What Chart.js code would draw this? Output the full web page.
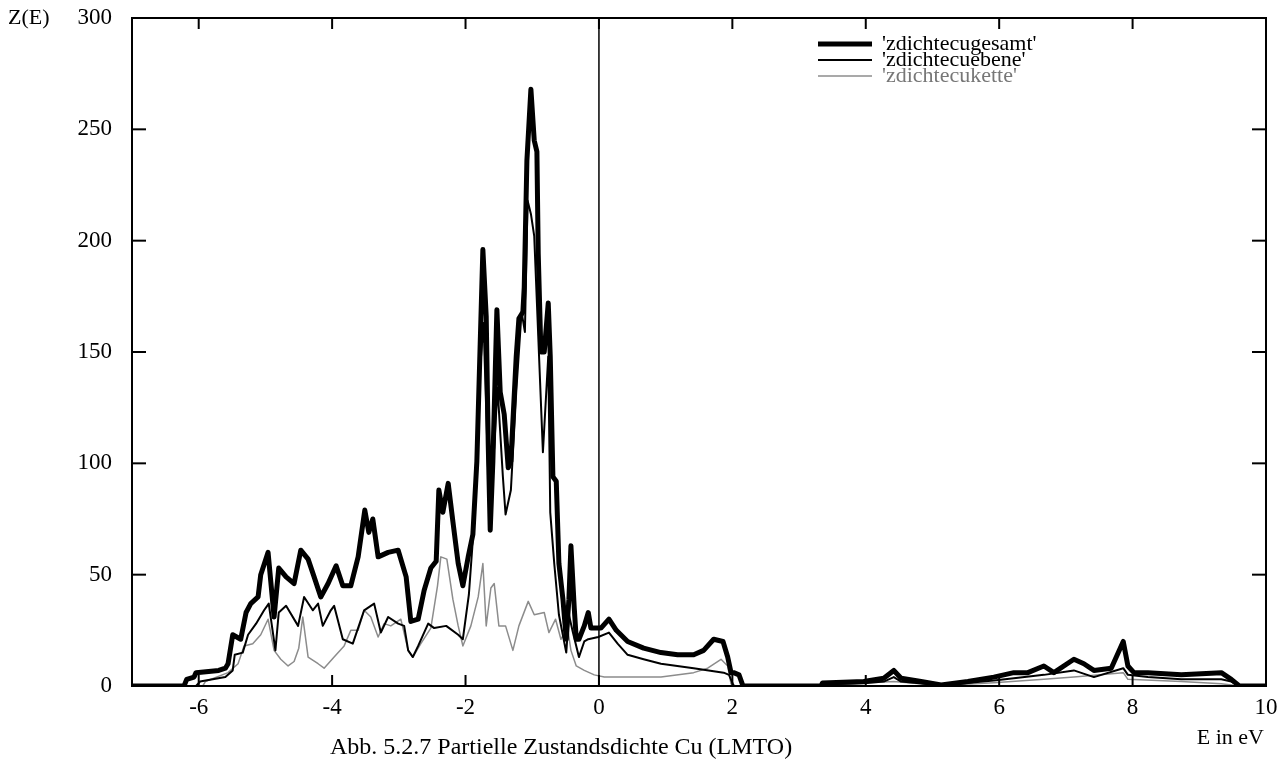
<!DOCTYPE html>
<html lang="de">
<head>
<meta charset="UTF-8" />
<title>Partielle Zustandsdichte Cu (LMTO)</title>
<script src="https://cdn.jsdelivr.net/npm/chart.js"></script>
<style>
  html, body { margin: 0; padding: 0; background: #fff; }
  #wrap { width: 1285px; height: 762px; }
</style>
</head>
<body>
<div id="wrap"><canvas id="dos"></canvas></div>
<script>
// Achsen
const xTicks = [-6, -4, -2, 0, 2, 4, 6, 8, 10];
const yTicks = [0, 50, 100, 150, 200, 250, 300];

// 'zdichtecugesamt'
const gesamtE = [
  -7, -6.22, -6.18, -6.07, -6.04, -5.70, -5.60, -5.56, -5.49, -5.37,
  -5.29, -5.22, -5.11, -5.07, -4.96, -4.87, -4.80, -4.69, -4.57, -4.47,
  -4.36, -4.27, -4.17, -4.06, -3.94, -3.84, -3.72, -3.61, -3.51, -3.45,
  -3.39, -3.31, -3.16, -3.01, -2.89, -2.82, -2.71, -2.62, -2.52, -2.44,
  -2.40, -2.34, -2.26, -2.19, -2.11, -2.04, -1.96, -1.89, -1.83, -1.74,
  -1.69, -1.66, -1.63, -1.59, -1.53, -1.48, -1.42, -1.36, -1.32, -1.24,
  -1.20, -1.14, -1.12, -1.08, -1.02, -0.97, -0.93, -0.91, -0.87, -0.82,
  -0.76, -0.73, -0.69, -0.64, -0.60, -0.54, -0.49, -0.45, -0.42, -0.37,
  -0.34, -0.30, -0.22, -0.16, -0.12, 0.03, 0.15, 0.26, 0.43, 0.67,
  0.93, 1.18, 1.42, 1.57, 1.72, 1.86, 1.93, 1.98, 2.02, 2.10,
  2.16, 3.33, 3.35, 3.97, 4.27, 4.42, 4.53, 4.83, 5.13, 5.53,
  5.92, 6.22, 6.43, 6.67, 6.82, 7.12, 7.27, 7.42, 7.68, 7.86,
  7.93, 8.02, 8.23, 8.73, 9.33, 9.48, 9.60, 10
];
const gesamtZ = [
  0, 0, 3, 4, 6, 7, 8, 10, 23, 21,
  33, 37, 40, 50, 60, 31, 53, 49, 46, 61,
  57, 49, 40, 46, 54, 45, 45, 58, 79, 69,
  75, 58, 60, 61, 49, 29, 30, 43, 53, 56,
  88, 78, 91, 74, 55, 45, 58, 68, 101, 196,
  166, 109, 70, 101, 169, 132, 122, 98, 101, 148,
  165, 168, 179, 236, 268, 245, 240, 194, 150, 150,
  172, 148, 94, 92, 55, 39, 21, 39, 63, 35,
  21, 21, 27, 33, 26, 26, 30, 25, 20, 17,
  15, 14, 14, 16, 21, 20, 13, 6, 6, 5,
  0, 0, 1.3, 2, 3.5, 7, 3.5, 2, 0.5, 2,
  4, 6, 6, 9, 6, 12, 10, 7, 8, 20,
  9, 6, 6, 5, 6, 3, 0, 0
];

// 'zdichtecuebene'
const ebeneE = [
  -7, -6.04, -5.98, -5.60, -5.49, -5.46, -5.34, -5.26, -5.14, -5.02,
  -4.95, -4.85, -4.80, -4.69, -4.51, -4.42, -4.29, -4.21, -4.14, -4.02,
  -3.97, -3.84, -3.69, -3.52, -3.37, -3.27, -3.16, -3.01, -2.92, -2.86,
  -2.79, -2.71, -2.56, -2.47, -2.29, -2.11, -2.04, -1.95, -1.88, -1.80,
  -1.73, -1.66, -1.62, -1.57, -1.52, -1.44, -1.40, -1.32, -1.24, -1.16,
  -1.11, -1.07, -1.02, -0.97, -0.84, -0.76, -0.73, -0.67, -0.60, -0.49,
  -0.45, -0.39, -0.30, -0.22, -0.16, -0.01, 0.15, 0.28, 0.43, 0.67,
  0.93, 1.42, 1.87, 1.95, 2.02, 3.33, 3.35, 3.97, 4.27, 4.42,
  4.53, 5.13, 5.92, 6.22, 6.67, 7.12, 7.42, 7.86, 7.93, 8.23,
  8.73, 9.33, 9.48, 9.60, 10
];
const ebeneZ = [
  0, 0, 2, 4, 7, 14, 15, 23, 28, 34,
  37, 16, 33, 36, 27, 40, 34, 37, 27, 34,
  36, 21, 19, 34, 37, 24, 31, 28, 27, 16,
  13, 18, 28, 26, 27, 23, 21, 41, 70, 135,
  163, 95, 92, 107, 134, 94, 77, 88, 132, 168,
  159, 218, 212, 202, 105, 148, 78, 55, 32, 15,
  32, 24, 13, 20, 21, 22, 24, 19, 14, 12,
  10, 8, 6, 5, 0, 0, 0.8, 1.2, 2, 4,
  2, 0.3, 2.5, 3.5, 5, 7, 4, 8, 5, 4,
  3, 3, 2, 0, 0
];

// 'zdichtecukette'
const ketteE = [
  -7, -5.94, -5.90, -5.56, -5.41, -5.32, -5.19, -5.07, -4.96, -4.87,
  -4.77, -4.66, -4.57, -4.50, -4.44, -4.36, -4.21, -4.12, -3.97, -3.82,
  -3.72, -3.61, -3.52, -3.42, -3.31, -3.22, -3.12, -2.97, -2.86, -2.79,
  -2.67, -2.52, -2.42, -2.37, -2.28, -2.19, -2.11, -2.04, -1.92, -1.81,
  -1.74, -1.69, -1.62, -1.57, -1.50, -1.40, -1.29, -1.20, -1.06, -0.97,
  -0.82, -0.75, -0.65, -0.57, -0.47, -0.42, -0.34, -0.22, -0.07, 0.08,
  0.93, 1.42, 1.63, 1.83, 1.93, 1.98, 2.05, 3.33, 3.35, 4.42,
  5.13, 5.92, 6.67, 7.12, 7.86, 7.93, 8.73, 9.33, 9.60, 10
];
const ketteZ = [
  0, 0, 2, 6, 10, 18, 19, 23, 30, 16,
  12, 9, 11, 17, 31, 13, 10, 8, 13, 18,
  25, 25, 34, 31, 22, 28, 27, 30, 16, 13,
  19, 26, 45, 58, 57, 39, 27, 18, 27, 40,
  55, 27, 44, 46, 27, 27, 16, 27, 38, 32,
  33, 24, 30, 21, 26, 16, 9, 7, 5, 4,
  4, 6, 8, 12, 9, 1, 0, 0, 0.5, 2,
  0.2, 1.5, 3, 4, 6, 3, 2, 1, 0, 0
];

const legendLabels = ["'zdichtecugesamt'", "'zdichtecuebene'", "'zdichtecukette'"];

const serif = "'Liberation Serif', 'DejaVu Serif', serif";

function pts(es, zs) {
    return es.map((e, i) => ({ x: e, y: zs[i] }));
}

// Rahmen, Ticks nach innen, Nulllinie, Legende und Beschriftungen
const gnuplotLook = {
    id: 'gnuplotLook',
    afterDatasetsDraw(chart) {
        const { ctx, chartArea: a, scales: { x, y } } = chart;
        const line = (x1, y1, x2, y2) => {
            ctx.beginPath(); ctx.moveTo(x1, y1); ctx.lineTo(x2, y2); ctx.stroke();
        };
        ctx.save();
        ctx.strokeStyle = '#000';

        const x0 = x.getPixelForValue(0);
        ctx.lineWidth = 1.5;
        line(x0, a.top, x0, a.bottom);

        ctx.lineWidth = 2;
        ctx.strokeRect(a.left, a.top, a.width, a.height);
        xTicks.forEach(v => {
            const px = x.getPixelForValue(v);
            line(px, a.bottom, px, a.bottom - 11);
            line(px, a.top, px, a.top + 11);
        });
        yTicks.forEach(v => {
            const py = y.getPixelForValue(v);
            line(a.left, py, a.left + 14, py);
            line(a.right, py, a.right - 14, py);
        });

        // Legende
        const ds = chart.data.datasets;
        ctx.font = '22px ' + serif;
        ctx.textBaseline = 'middle';
        ctx.textAlign = 'left';
        legendLabels.forEach((lab, i) => {
            const ly = 44 + i * 16;
            ctx.strokeStyle = ds[i].borderColor;
            ctx.lineWidth = ds[i].borderWidth;
            line(818, ly, 872, ly);
            ctx.fillStyle = i === 2 ? '#777' : '#000';
            ctx.fillText(lab, 882, ly);
        });

        // Achsentitel und Bildunterschrift
        ctx.fillStyle = '#000';
        ctx.font = '22px ' + serif;
        ctx.fillText('Z(E)', 8, 18);
        ctx.textAlign = 'right';
        ctx.fillText('E in eV', 1264, 738);
        ctx.textAlign = 'left';
        ctx.font = '24px ' + serif;
        ctx.fillText('Abb. 5.2.7 Partielle Zustandsdichte Cu (LMTO)', 330, 748);
        ctx.restore();
    }
};

new Chart(document.getElementById('dos'), {
    type: 'scatter',
    data: {
        datasets: [
            { label: legendLabels[0], data: pts(gesamtE, gesamtZ), borderColor: '#000', borderWidth: 5 },
            { label: legendLabels[1], data: pts(ebeneE, ebeneZ), borderColor: '#000', borderWidth: 2 },
            { label: legendLabels[2], data: pts(ketteE, ketteZ), borderColor: '#8c8c8c', borderWidth: 1.5 }
        ].map(d => Object.assign(d, { showLine: true, pointRadius: 0, tension: 0, borderJoinStyle: 'round' }))
    },
    options: {
        responsive: true,
        maintainAspectRatio: false,
        animation: false,
        layout: { padding: { left: 0, top: 18, right: 19, bottom: 0 } },
        plugins: { legend: { display: false }, tooltip: { enabled: false } },
        scales: {
            x: {
                type: 'linear', min: -7, max: 10,
                grid: { display: false, drawTicks: false },
                border: { display: false },
                ticks: { color: '#000', font: { family: serif, size: 23 }, padding: 8, maxRotation: 0 },
                afterBuildTicks: s => { s.ticks = xTicks.map(v => ({ value: v })); },
                afterFit: s => { s.height = 76; s.paddingLeft = 0; s.paddingRight = 0; }
            },
            y: {
                type: 'linear', min: 0, max: 300,
                grid: { display: false, drawTicks: false },
                border: { display: false },
                ticks: { color: '#000', font: { family: serif, size: 23 }, padding: 20 },
                afterBuildTicks: s => { s.ticks = yTicks.map(v => ({ value: v })); },
                afterFit: s => { s.width = 132; s.paddingTop = 0; s.paddingBottom = 0; }
            }
        }
    },
    plugins: [gnuplotLook]
});
</script>
</body>
</html>
